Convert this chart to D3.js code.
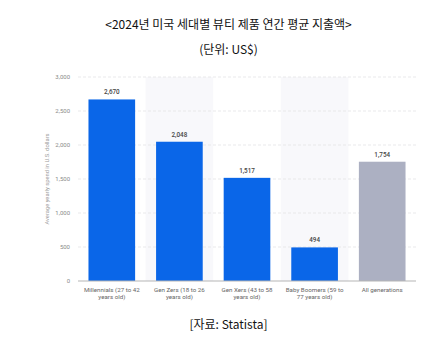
<!DOCTYPE html>
<html><head><meta charset="utf-8">
<script src="https://cdn.jsdelivr.net/npm/d3@7"></script>
<style>body{margin:0;background:#fff;}svg{display:block;}</style>
</head><body>
<script>
const categories = [["Millennials (27 to 42","years old)"],["Gen Zers (18 to 26","years old)"],["Gen Xers (43 to 58","years old)"],["Baby Boomers (59 to","77 years old)"],["All generations"]];
const values = [2670, 2048, 1517, 494, 1754];
const barColors = ["#0a66e8","#0a66e8","#0a66e8","#0a66e8","#acb0c2"];
const yTicks = [0, 500, 1000, 1500, 2000, 2500, 3000];
const title = "<2024년 미국 세대별 뷰티 제품 연간 평균 지출액>";
const subtitle = "(단위: US$)";
const source = "[자료: Statista]";
const yTitle = "Average yearly spend in U.S. dollars";

const W = 437, H = 346;
const svg = d3.select("body").append("svg").attr("width", W).attr("height", H);
const m = {left: 78, right: 416, top: 77, bottom: 281};
const x = d3.scaleBand().domain(d3.range(values.length)).range([m.left, m.right]).paddingInner(0.31).paddingOuter(0.155);
const xb = d3.scaleBand().domain(d3.range(values.length)).range([m.left, m.right]);
const y = d3.scaleLinear().domain([0, 3000]).range([m.bottom, m.top]);

// shaded alternate bands
svg.selectAll("rect.band").data(d3.range(values.length).filter(i => i % 2 === 1)).enter().append("rect")
  .attr("x", i => xb(i)).attr("width", xb.bandwidth()).attr("y", m.top).attr("height", m.bottom - m.top)
  .attr("fill", "#f8f8fb");

// gridlines
svg.selectAll("line.grid").data(yTicks.filter(t => t > 0)).enter().append("line")
  .attr("x1", m.left).attr("x2", m.right).attr("y1", d => y(d)).attr("y2", d => y(d))
  .attr("stroke", "#e3e3e6").attr("stroke-width", 0.8).attr("stroke-dasharray", "3,2");

// y tick labels
svg.selectAll("text.yt").data(yTicks).enter().append("text")
  .attr("x", 70).attr("y", d => y(d)).attr("dy", "0.35em").attr("text-anchor", "end")
  .attr("font-family", "Roboto, sans-serif").attr("font-size", 6).attr("fill", "#8a8a8a")
  .text(d => d3.format(",")(d));

// y title
svg.append("text").attr("transform", `translate(49,${(m.top + m.bottom) / 2}) rotate(-90)`)
  .attr("text-anchor", "middle").attr("font-family", "Roboto, sans-serif").attr("font-size", 5.8).attr("fill", "#9a9a9a")
  .text(yTitle);

// bars
svg.selectAll("rect.bar").data(values).enter().append("rect")
  .attr("x", (d, i) => x(i)).attr("width", x.bandwidth())
  .attr("y", d => y(d)).attr("height", d => y(0) - y(d))
  .attr("fill", (d, i) => barColors[i]);

// value labels
svg.selectAll("text.val").data(values).enter().append("text")
  .attr("x", (d, i) => x(i) + x.bandwidth() / 2).attr("y", d => y(d) - 5)
  .attr("text-anchor", "middle").attr("font-family", "Roboto, sans-serif").attr("font-size", 6.3)
  .attr("font-weight", 500).attr("fill", "#444").text(d => d3.format(",")(d));

// axis line
svg.append("line").attr("x1", m.left).attr("x2", m.right).attr("y1", y(0)).attr("y2", y(0))
  .attr("stroke", "#b5b5b5").attr("stroke-width", 1);

// x labels
categories.forEach((lines, i) => {
  const t = svg.append("text").attr("text-anchor", "middle").attr("font-family", "Roboto, sans-serif")
    .attr("font-size", 6.2).attr("fill", "#666");
  lines.forEach((l, j) => t.append("tspan").attr("x", xb(i) + xb.bandwidth() / 2).attr("y", 292 + j * 7).text(l));
});

// titles
const tf = "'Noto Sans CJK KR', sans-serif";
svg.append("text").attr("x", 228.5).attr("y", 29).attr("text-anchor", "middle")
  .attr("font-family", tf).attr("font-size", 12).attr("fill", "#111").text(title);
svg.append("text").attr("x", 228.5).attr("y", 54).attr("text-anchor", "middle")
  .attr("font-family", tf).attr("font-size", 12).attr("fill", "#111").text(subtitle);
svg.append("text").attr("x", 228.5).attr("y", 329).attr("text-anchor", "middle")
  .attr("font-family", tf).attr("font-size", 12).attr("fill", "#111").text(source);
</script>
</body></html>
